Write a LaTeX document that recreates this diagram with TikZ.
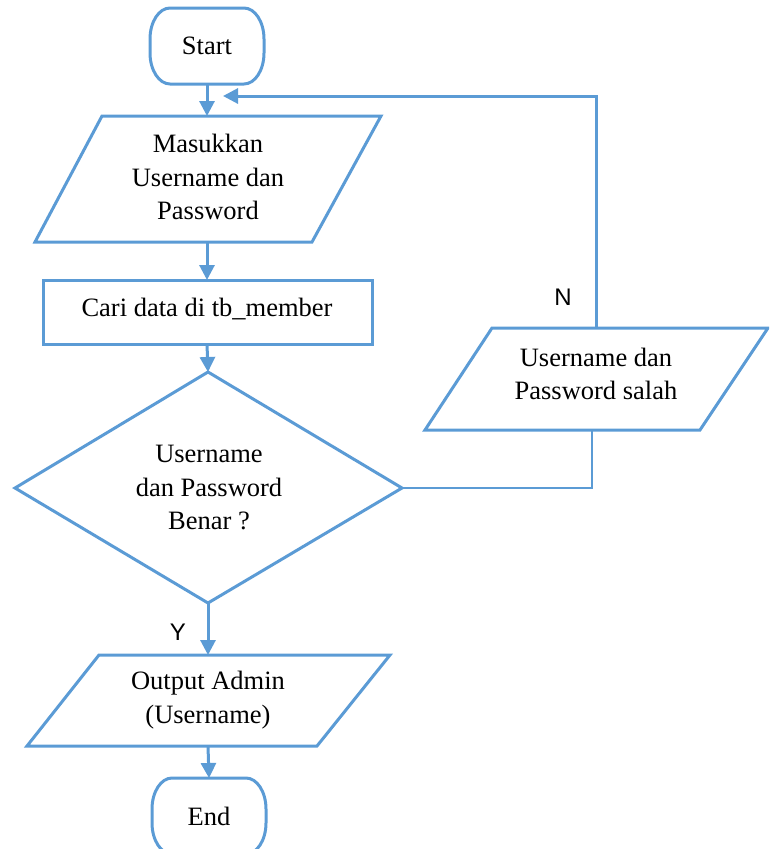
\documentclass[tikz,border=0pt]{standalone}
\usepackage{fontspec}
\setmainfont{Liberation Serif}
\newfontfamily\labelfont{Liberation Sans}
\usetikzlibrary{arrows.meta}
\definecolor{flowblue}{HTML}{5B9BD5}
\begin{document}
\begin{tikzpicture}[x=1pt,y=-1pt,
  shapeline/.style={draw=flowblue,line width=3pt,line join=miter},
  flow/.style={draw=flowblue,line width=3pt,-{Triangle[length=15pt,width=15pt]}},
  thinflow/.style={draw=flowblue,line width=1.6pt},
  txt/.style={align=center,inner sep=0pt,font=\fontsize{26.5}{33.5}\selectfont},
  yn/.style={inner sep=0pt,font=\labelfont\fontsize{24}{26}\selectfont}]
\useasboundingbox (0,0) rectangle (769,849);
\clip (0,0) rectangle (769,849);

% Terminal outline with elliptical corners: \terminal{left}{top}{right}{bottom}
\newcommand\terminal[4]{%
  \draw[shapeline] (#1+20,#2) -- (#3-20,#2)
    arc[start angle=90,end angle=0,x radius=20,y radius=-31] -- (#3,#4-31)
    arc[start angle=0,end angle=-90,x radius=20,y radius=-31] -- (#1+20,#4)
    arc[start angle=270,end angle=180,x radius=20,y radius=-31] -- (#1,#2+31)
    arc[start angle=180,end angle=90,x radius=20,y radius=-31] -- cycle;}

% Start terminal
\terminal{150}{8}{264}{84}
\node[txt] (start) at (207,46) {Start};
\coordinate (startS) at (207,84);

% Input: username and password
\draw[shapeline] (102,116) -- (381,116) -- (312,242) -- (35,242) -- cycle;
\node[txt] (input) at (208,177) {Masukkan\\Username dan\\Password};
\coordinate (inputN) at (207,116);
\coordinate (inputS) at (207,242);
\coordinate (loopIn) at (223,96);

% Process: look up member table
\draw[shapeline] (43,280) rectangle (372,344);
\node[txt] (search) at (207,309) {Cari data di tb\_member};
\coordinate (searchN) at (207,280);
\coordinate (searchS) at (207,344);

% Decision
\draw[shapeline] (208,372) -- (402,488) -- (208,603) -- (15,488) -- cycle;
\node[txt] (check) at (209,488) {Username\\dan Password\\Benar ?};
\coordinate (checkN) at (208,372);
\coordinate (checkE) at (402,488);
\coordinate (checkS) at (208,603);

% Error output
\draw[shapeline] (492,328) -- (768,328) -- (700,430) -- (425,430) -- cycle;
\node[txt] (wrong) at (596,374) {Username dan\\Password salah};
\coordinate (wrongN) at (596,328);
\coordinate (wrongS) at (592,430);

% Output admin
\draw[shapeline] (99,655) -- (390,655) -- (317,746) -- (27,746) -- cycle;
\node[txt] (output) at (208,700) {Output Admin\\(Username)};
\coordinate (outputN) at (208,655);
\coordinate (outputS) at (208,746);

% End terminal
\terminal{152}{778}{266}{854}
\node[txt] (finish) at (209,816) {End};
\coordinate (finishN) at (209,778);

% Connectors
\draw[flow] (startS) -- (inputN);
\draw[flow] (inputS) -- (searchN);
\draw[flow] (searchS) -- (checkN);
\draw[flow] (checkS) -- (outputN);
\draw[flow] (outputS) -- (finishN);
\draw[thinflow] (checkE) -| (wrongS);
\draw[flow] (wrongN) |- (loopIn);

% Branch labels
\node[yn] (no) at (563,297) {N};
\node[yn] (yes) at (178,632) {Y};
\end{tikzpicture}
\end{document}
